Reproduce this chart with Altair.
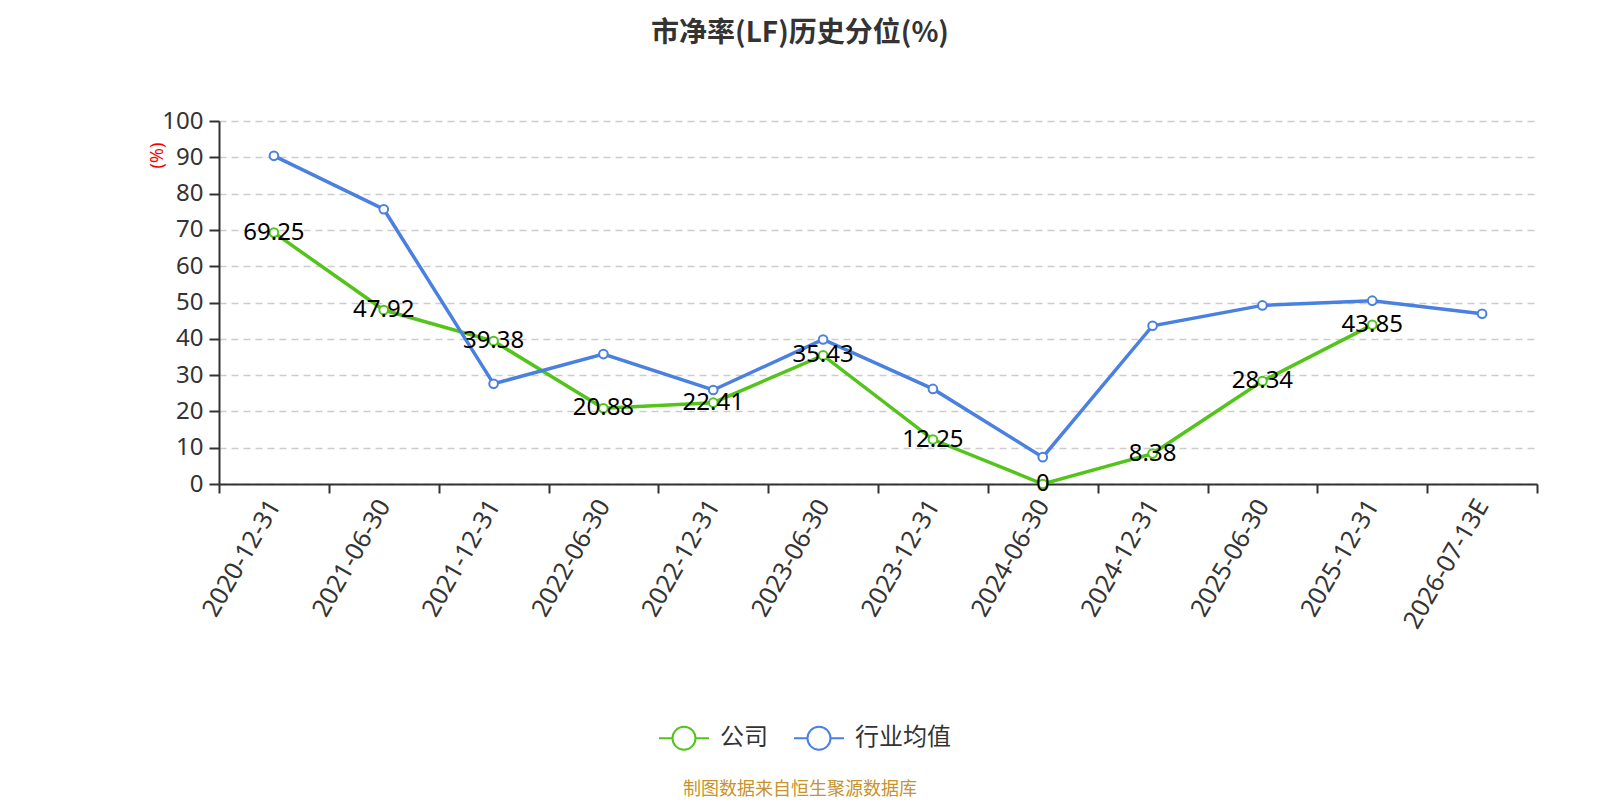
import altair as alt
import pandas as pd

dates = ["2020-12-31", "2021-06-30", "2021-12-31", "2022-06-30", "2022-12-31",
         "2023-06-30", "2023-12-31", "2024-06-30", "2024-12-31", "2025-06-30",
         "2025-12-31", "2026-07-13E"]
company = [69.25, 47.92, 39.38, 20.88, 22.41, 35.43, 12.25, 0, 8.38, 28.34, 43.85, None]
company_labels = ["69.25", "47.92", "39.38", "20.88", "22.41", "35.43", "12.25", "0",
                  "8.38", "28.34", "43.85", ""]
industry = [90.4, 75.7, 27.6, 35.8, 25.9, 39.8, 26.2, 7.4, 43.6, 49.2, 50.5, 46.9]
series_names = ["公司", "行业均值"]
colors = ["#52C41A", "#4A80E0"]
y_ticks = [0, 10, 20, 30, 40, 50, 60, 70, 80, 90, 100]
title_text = "市净率(LF)历史分位(%)"
y_title = "(%)"
footer_text = "制图数据来自恒生聚源数据库"

rows = []
for d, v, lab in zip(dates, company, company_labels):
    if v is not None:
        rows.append({"date": d, "value": v, "series": series_names[0], "label": lab})
for d, v in zip(dates, industry):
    rows.append({"date": d, "value": v, "series": series_names[1], "label": ""})
df = pd.DataFrame(rows)

x_enc = alt.X(
    "date:N", sort=dates, bandPosition=0.5,
    scale=alt.Scale(type="band", domain=dates, paddingInner=0, paddingOuter=0),
    axis=alt.Axis(title=None, labelAngle=300, labelAlign="right", labelBaseline="middle",
                  labelFontSize=25, labelFont="Noto Sans", labelColor="#333333",
                  labelPadding=8, tickBand="extent", tickSize=9, tickWidth=2,
                  tickColor="#333333", domainColor="#333333", domainWidth=2,
                  grid=False, labelOverlap=False),
)
y_enc = alt.Y(
    "value:Q",
    scale=alt.Scale(domain=[0, 100], nice=False, zero=True),
    axis=alt.Axis(values=y_ticks, title=y_title, titleColor="red", titleFontSize=18,
                  titleFont="Noto Sans", titleFontWeight="normal", titleAngle=270,
                  titleX=-62, titleY=34, titleAlign="center", titleBaseline="middle",
                  labelFontSize=24, labelFont="Noto Sans", labelColor="#333333",
                  labelPadding=6, tickSize=10, tickWidth=2, tickColor="#333333",
                  domainColor="#333333", domainWidth=2,
                  grid=True, gridColor="#cccccc", gridDash=[7, 5], gridWidth=1.5),
)
legend_symbol = ("M-1,0L-0.46,0M0.46,0L1,0M0.46,0A0.46,0.46,0,1,1,-0.46,0"
                 "A0.46,0.46,0,1,1,0.46,0Z")
color_enc = alt.Color(
    "series:N",
    scale=alt.Scale(domain=series_names, range=colors),
    legend=alt.Legend(title=None, orient="none", legendX=439, legendY=591,
                      direction="horizontal", symbolType=legend_symbol, symbolSize=2500,
                      symbolStrokeWidth=2, symbolFillColor="white", symbolOpacity=1,
                      labelFontSize=24, labelFont="Noto Sans CJK SC", labelColor="#333333",
                      labelOffset=10, columnPadding=22, padding=0),
)

base = alt.Chart(df)
green_line = base.transform_filter(alt.datum.series == series_names[0]).mark_line(
    strokeWidth=3.5).encode(x=x_enc, y=y_enc, color=color_enc)
blue_line = base.transform_filter(alt.datum.series == series_names[1]).mark_line(
    strokeWidth=3.5).encode(x=x_enc, y=y_enc, color=color_enc)
points = base.mark_point(filled=False, fill="white", fillOpacity=1, opacity=1,
                         size=75, strokeWidth=2).encode(x=x_enc, y=y_enc, color=color_enc)
labels = base.transform_filter(alt.datum.label != "").mark_text(
    fontSize=24, font="Noto Sans", color="black", align="center", baseline="middle"
).encode(x=x_enc, y=y_enc, text="label:N")
footer = alt.Chart(pd.DataFrame({"t": [footer_text]})).mark_text(
    fontSize=18, font="Noto Sans CJK SC", color="#C8922C", align="center", baseline="middle"
).encode(text="t:N", x=alt.value(581), y=alt.value(669))

chart = alt.layer(green_line, blue_line, points, labels, footer).properties(
    width=1318, height=363,
    autosize=alt.AutoSizeParams(type="none"),
    padding={"left": 211, "top": 113, "right": 55, "bottom": 316},
    title=alt.TitleParams(text=title_text, font="Noto Sans CJK SC", fontSize=28,
                          fontWeight="bold", color="#333333", anchor="middle",
                          frame="group", dx=-78, offset=61),
).configure_view(stroke=None)

chart.save("out.html", embed_options={"renderer": "svg", "actions": False})
